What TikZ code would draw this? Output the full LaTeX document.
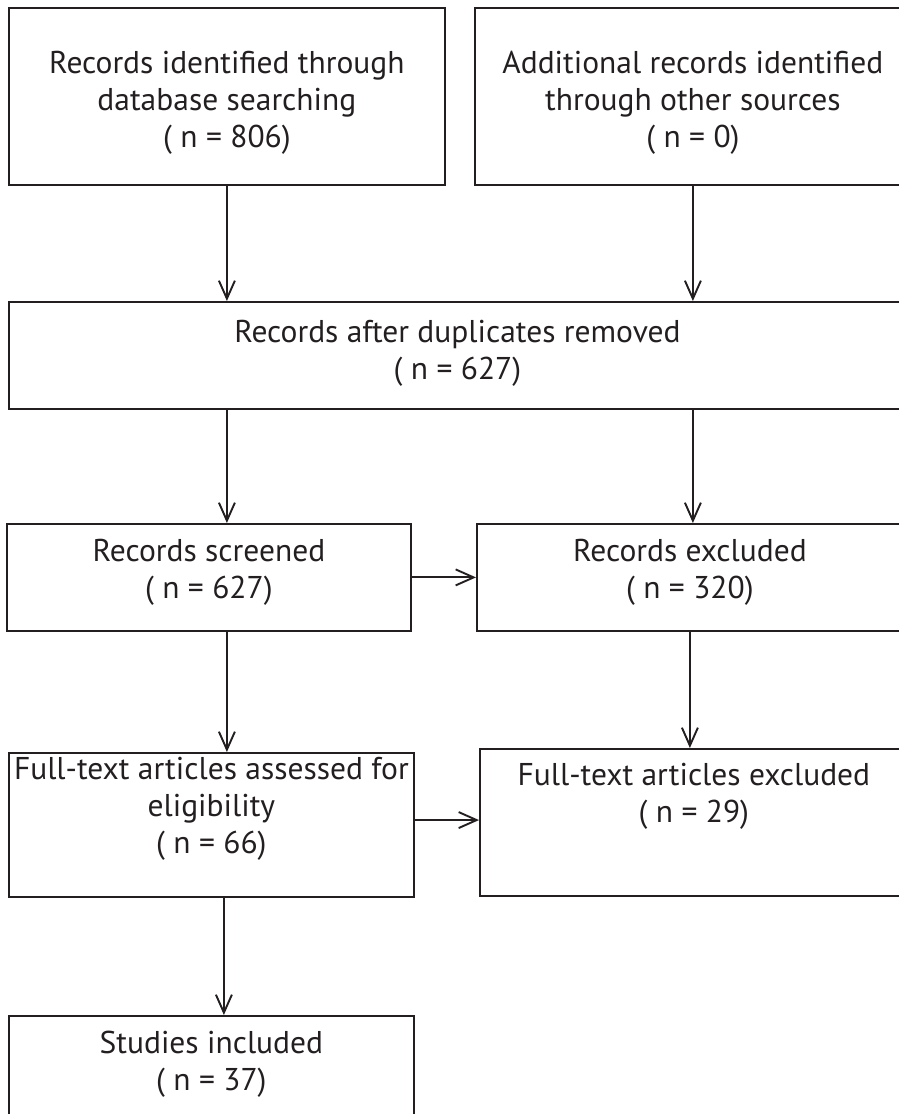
\documentclass[tikz,border=0pt]{standalone}
\usepackage{fontspec}
\setmainfont{PT Sans}
\usetikzlibrary{arrows.meta}
\definecolor{ink}{HTML}{231F20}
\tikzstyle{line} = [draw, ink, line width=2pt, -{Straight Barb[length=18pt,width=16pt,line width=1.9pt]}]
\tikzstyle{block} = [draw, ink, line width=1.8pt, rectangle, text=ink, align=center, anchor=north west, inner sep=4pt, font=\fontsize{31.5}{37}\selectfont]

\begin{document}
\begin{tikzpicture}[x=1pt, y=-1pt]
        \useasboundingbox (0,0) rectangle (899,1114);
        \clip (0,0) rectangle (899,1114);
        \node[block, minimum width=436, minimum height=177] (dbase) at (8,7) {\rule{0pt}{62pt}Records identified through\\database searching\\( n = 806)\rule[-33pt]{0pt}{33pt}};
        \node[block, minimum width=436, minimum height=177] (other) at (474,7) {\rule{0pt}{62pt}Additional records identified\\through other sources\\( n = 0)\rule[-33pt]{0pt}{33pt}};
        \node[block, minimum width=897, minimum height=107] (dup) at (8,301) {\rule{0pt}{37pt}Records after duplicates removed\\( n = 627)\rule[-25pt]{0pt}{25pt}};
        \node[block, minimum width=404, minimum height=107] (screen) at (6,523) {\rule{0pt}{34pt}Records screened\\( n = 627)\rule[-28pt]{0pt}{28pt}};
        \node[block, minimum width=426, minimum height=107] (screenex) at (476,523) {\rule{0pt}{34pt}Records excluded\\( n = 320)\rule[-28pt]{0pt}{28pt}};
        \node[block, minimum width=405, minimum height=144] (full) at (8,752) {\rule{0pt}{22pt}Full-text articles assessed for\\eligibility\\( n = 66)\rule[-40pt]{0pt}{40pt}};
        \node[block, minimum width=428, minimum height=147] (fullex) at (479,748) {\rule{0pt}{33pt}Full-text articles excluded\\( n = 29)\rule[-69pt]{0pt}{69pt}};
        \node[block, minimum width=405, minimum height=110] (incl) at (8,1015) {\rule{0pt}{33pt}Studies included\\( n = 37)\rule[-31pt]{0pt}{31pt}};
        \path[line] (dbase.south) -- (dbase.south |- dup.north);
        \path[line] (other.south) -- (other.south |- dup.north);
        \path[line] (dbase.south |- dup.south) -- (dbase.south |- screen.north);
        \path[line] (other.south |- dup.south) -- (other.south |- screenex.north);
        \path[line] (screen.east) -- (screenex.west);
        \path[line] (dbase.south |- screen.south) -- (dbase.south |- full.north);
        \path[line] (screenex.south) -- (screenex.south |- fullex.north);
        \path[line] ([yshift=5pt]full.east) -- ([yshift=5pt]full.east -| fullex.west);
        \path[line] ([xshift=12.5]full.south) -- ([xshift=12.5]full.south |- incl.north);
    \end{tikzpicture}
\end{document}
